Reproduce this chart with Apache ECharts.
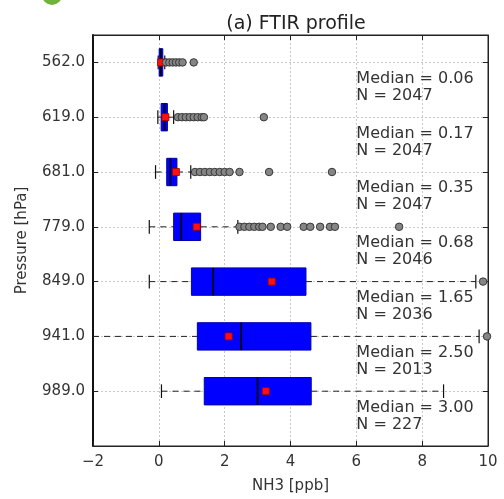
<!DOCTYPE html>
<html>
<head>
<meta charset="utf-8">
<script src="https://cdn.jsdelivr.net/npm/echarts@6/dist/echarts.min.js"></script>
<style>
  html, body { margin: 0; padding: 0; background: #fff; }
  #chart { width: 504px; height: 499px; }
</style>
</head>
<body>
<div id="chart"></div>
<script>
// Pressure levels, top to bottom
const levels = ['562.0', '619.0', '681.0', '779.0', '849.0', '941.0', '989.0'];
// Box statistics of NH3 (ppb) per level
const medians = [0.06, 0.17, 0.35, 0.68, 1.65, 2.50, 3.00];
const counts = [2047, 2047, 2047, 2046, 2036, 2013, 227];
const q1 = [0.01, 0.07, 0.24, 0.45, 0.99, 1.17, 1.38];
const q3 = [0.12, 0.26, 0.55, 1.27, 4.47, 4.62, 4.63];
const whiskerLow = [-0.02, -0.03, -0.10, -0.29, -0.29, -2.60, 0.08];
const whiskerHigh = [0.18, 0.45, 0.97, 2.40, 9.63, 9.73, 8.65];
const means = [0.07, 0.20, 0.52, 1.15, 3.43, 2.12, 3.25];
// Outlying points per level
const outliers = [
  [0.22, 0.32, 0.42, 0.52, 0.62, 0.72, 1.06],
  [0.58, 0.70, 0.82, 0.94, 1.06, 1.18, 1.30, 1.37, 3.19],
  [1.10, 1.25, 1.40, 1.55, 1.70, 1.85, 2.00, 2.15, 2.45, 3.35, 5.26],
  [2.45, 2.60, 2.75, 2.90, 3.05, 3.15, 3.40, 3.70, 3.90, 4.40, 4.60, 4.90, 5.20, 5.35, 7.30],
  [9.85],
  [9.97],
  []
];
const xTicks = { min: -2, max: 10, step: 2 };

const FONT = 'DejaVu Sans';
// Row i sits at y = 7 - i (bottom level at 1, top at 7)
const ypos = levels.map((_, i) => 7 - i);

const boxData = levels.map((_, i) => [ypos[i], whiskerLow[i], q1[i], medians[i], q3[i], whiskerHigh[i], means[i]]);
const flierData = [];
outliers.forEach((row, i) => row.forEach(v => flierData.push([v, ypos[i]])));
const noteData = levels.map((_, i) => [xTicks.max - 4, ypos[i], medians[i], counts[i]]);

function fmtX(v) {
  return v < 0 ? '\u2212' + Math.abs(v) : String(v);
}

function renderBox(params, api) {
  const y = api.value(0);
  const lo = api.value(1), a = api.value(2), med = api.value(3), b = api.value(4), hi = api.value(5), mean = api.value(6);
  const cs = params.coordSys;
  const halfBox = api.size([0, 0.5])[1] / 2;
  const halfCap = api.size([0, 0.25])[1] / 2;
  const clampX = x => Math.max(cs.x, Math.min(cs.x + cs.width, x));
  const p = v => api.coord([v, y]);
  const pl = p(lo), pa = p(a), pm = p(med), pb = p(b), ph = p(hi), pmean = p(mean);
  const cy = pa[1];
  const children = [];
  const dash = { stroke: '#222', lineWidth: 1, lineDash: [6, 5] };
  children.push({ type: 'line', shape: { x1: clampX(pl[0]), y1: cy, x2: pa[0], y2: cy }, style: dash });
  children.push({ type: 'line', shape: { x1: pb[0], y1: cy, x2: clampX(ph[0]), y2: cy }, style: dash });
  [pl[0], ph[0]].forEach(x => {
    if (x >= cs.x && x <= cs.x + cs.width) {
      children.push({ type: 'line', shape: { x1: x, y1: cy - halfCap, x2: x, y2: cy + halfCap }, style: { stroke: '#111', lineWidth: 1.2 } });
    }
  });
  children.push({ type: 'rect', shape: { x: pa[0], y: cy - halfBox, width: Math.max(pb[0] - pa[0], 1), height: halfBox * 2 }, style: { fill: '#0000ff', stroke: '#0000b0', lineWidth: 1 } });
  children.push({ type: 'line', shape: { x1: pm[0], y1: cy - halfBox, x2: pm[0], y2: cy + halfBox }, style: { stroke: '#000022', lineWidth: 2 } });
  children.push({ type: 'rect', shape: { x: pmean[0] - 3.5, y: cy - 3.5, width: 7, height: 7 }, style: { fill: '#ff1010', stroke: '#a00000', lineWidth: 0.8 } });
  return { type: 'group', children };
}

function renderNote(params, api) {
  const pt = api.coord([api.value(0), api.value(1)]);
  const dy = api.size([0, 0.45])[1];
  return {
    type: 'text',
    x: pt[0], y: pt[1] + dy,
    style: {
      text: 'Median = ' + api.value(2).toFixed(2) + '\nN = ' + api.value(3),
      fill: '#333', font: '16px "' + FONT + '"', lineHeight: 17,
      align: 'left', verticalAlign: 'middle'
    }
  };
}

const axisTickStyle = { show: true, inside: true, length: 5, lineStyle: { color: '#222', width: 1 } };
const splitStyle = { show: true, lineStyle: { color: '#c8c8c8', type: [2, 2], width: 1 } };

const chart = echarts.init(document.getElementById('chart'), null, { renderer: 'canvas' });
chart.setOption({
  animation: false,
  backgroundColor: '#fff',
  textStyle: { fontFamily: FONT },
  title: {
    text: '(a) FTIR profile', left: 291, top: 10, textAlign: 'center',
    textStyle: { fontFamily: FONT, fontSize: 19, fontWeight: 'normal', color: '#222' }
  },
  grid: { left: 93, right: 16, top: 35, bottom: 52, show: true, borderColor: '#222', borderWidth: 1, backgroundColor: 'transparent' },
  xAxis: [{
    type: 'value', min: xTicks.min, max: xTicks.max, interval: xTicks.step, position: 'bottom',
    axisLine: { show: true, onZero: false, lineStyle: { color: '#222', width: 1.2 } },
    axisTick: axisTickStyle, splitLine: splitStyle,
    axisLabel: { color: '#333', fontSize: 15, fontFamily: FONT, margin: 9, formatter: fmtX },
    name: 'NH3 [ppb]', nameLocation: 'middle', nameGap: 33,
    nameTextStyle: { color: '#333', fontSize: 15, fontFamily: FONT }
  }, {
    type: 'value', min: xTicks.min, max: xTicks.max, interval: xTicks.step, position: 'top',
    axisLine: { show: true, onZero: false, lineStyle: { color: '#222', width: 1.2 } },
    axisTick: axisTickStyle, splitLine: { show: false }, axisLabel: { show: false }
  }],
  yAxis: [{
    type: 'value', min: 0, max: 7.5, interval: 1, position: 'left',
    axisLine: { show: true, onZero: false, lineStyle: { color: '#111', width: 2 } },
    axisTick: axisTickStyle, splitLine: splitStyle,
    axisLabel: {
      color: '#333', fontSize: 15, fontFamily: FONT, margin: 8,
      formatter: v => (Number.isInteger(v) && v >= 1 && v <= 7) ? levels[7 - v] : ''
    },
    name: 'Pressure [hPa]', nameLocation: 'middle', nameGap: 63, nameRotate: 90,
    nameTextStyle: { color: '#333', fontSize: 15, fontFamily: FONT }
  }, {
    type: 'value', min: 0, max: 7.5, interval: 1, position: 'right',
    axisLine: { show: true, onZero: false, lineStyle: { color: '#222', width: 1 } },
    axisTick: axisTickStyle, splitLine: { show: false }, axisLabel: { show: false }
  }],
  graphic: [{
    type: 'circle', shape: { cx: 52, cy: -5, r: 10 },
    style: { fill: '#6fb33a' }, silent: true
  }],
  series: [{
    type: 'custom', name: 'boxes', renderItem: renderBox, data: boxData,
    clip: true, xAxisIndex: 0, yAxisIndex: 0, z: 3,
    encode: { x: [1, 2, 3, 4, 5, 6], y: 0 }
  }, {
    type: 'scatter', name: 'outliers', data: flierData, clip: true,
    symbol: 'circle', symbolSize: 7.5, xAxisIndex: 0, yAxisIndex: 0, z: 4,
    itemStyle: { color: '#858585', borderColor: '#383838', borderWidth: 1, opacity: 1 }
  }, {
    type: 'custom', name: 'notes', renderItem: renderNote, data: noteData,
    clip: false, xAxisIndex: 0, yAxisIndex: 0, z: 5,
    encode: { x: 0, y: 1 }
  }]
});
</script>
</body>
</html>
